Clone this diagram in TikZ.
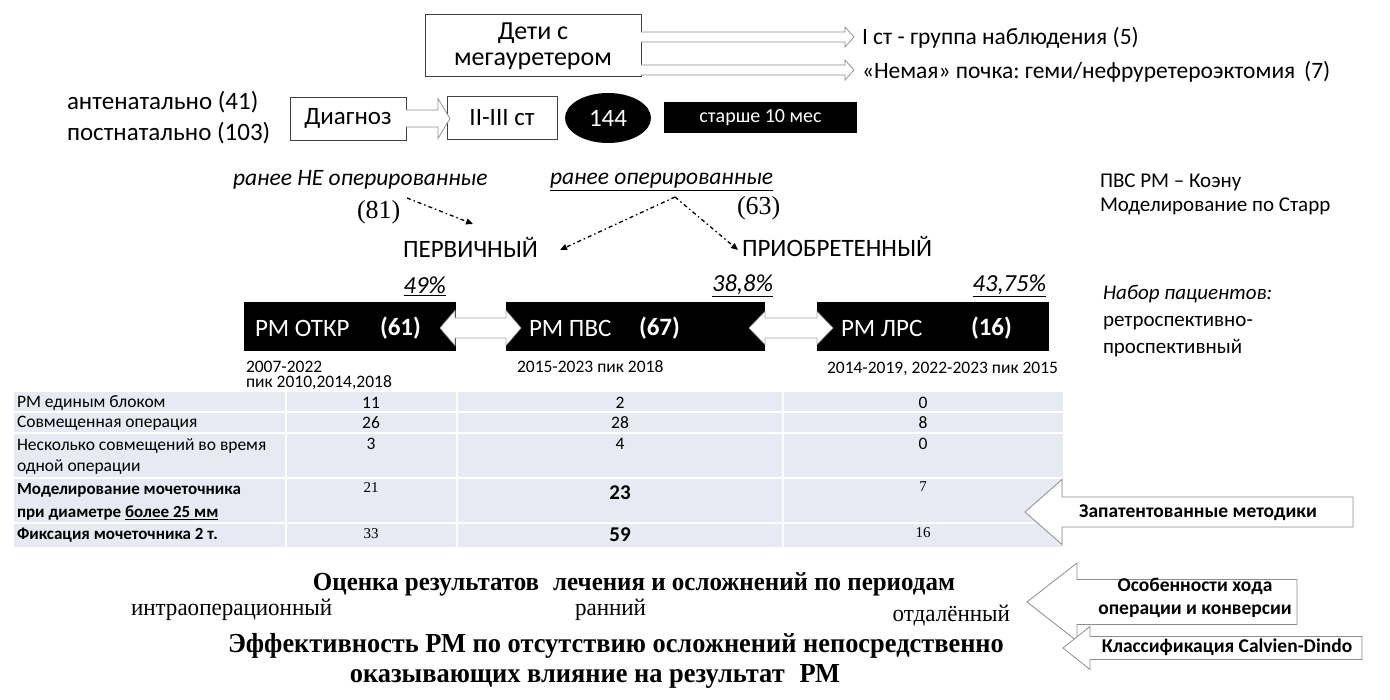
\documentclass[tikz,border=0pt]{standalone}
\usepackage{fontspec}
\setmainfont{Carlito}
\newfontfamily\tnr{Liberation Serif}
\newfontfamily\tnrc[FakeStretch=0.96]{Liberation Serif}
\usetikzlibrary{arrows.meta,calc,shapes.geometric}
\definecolor{tabfill}{HTML}{E8EAF3}
\definecolor{arrgray}{HTML}{8C8C8C}
\frenchspacing
\newcommand\rarrowshape[6]{\draw[#6] let \p1=(#1), \p2=(#2) in (\x1,\y1+#3) -- (\x2-#5,\y1+#3) -- (\x2-#5,\y1+#4) -- (\x2,\y1) -- (\x2-#5,\y1-#4) -- (\x2-#5,\y1-#3) -- (\x1,\y1-#3);}
\newcommand\dblarrowshape[6]{\draw[#6] let \p1=(#1), \p2=(#2) in (\x1,\y1) -- (\x1+#5,\y1+#4) -- (\x1+#5,\y1+#3) -- (\x2-#5,\y1+#3) -- (\x2-#5,\y1+#4) -- (\x2,\y1) -- (\x2-#5,\y1-#4) -- (\x2-#5,\y1-#3) -- (\x1+#5,\y1-#3) -- (\x1+#5,\y1-#4) -- cycle;}
\newcommand\larrowshape[6]{\draw[#6] let \p1=(#1), \p2=(#2) in (\x1,\y1) -- (\x1+#5,\y1+#4) -- (\x1+#5,\y1+#3) -- (\x2,\y1+#3) -- (\x2,\y1-#3) -- (\x1+#5,\y1-#3) -- (\x1+#5,\y1-#4) -- cycle;}
\begin{document}
\begin{tikzpicture}[x=1pt,y=-1pt,
  every node/.style={inner sep=0pt, outer sep=0pt},
  f25/.style={font=\fontsize{25}{29}\selectfont},
  f26/.style={font=\fontsize{26}{29}\selectfont},
  f25b/.style={font=\fontsize{25}{29}\selectfont\bfseries},
  f23/.style={font=\fontsize{23.5}{28}\selectfont},
  it24/.style={font=\fontsize{23.5}{28}\selectfont\itshape},
  it25/.style={font=\fontsize{24.5}{29}\selectfont\itshape},
  s26/.style={font=\fontsize{26}{30}\selectfont\tnr},
  f21/.style={font=\fontsize{21}{25}\selectfont},
  it21/.style={font=\fontsize{21}{25}\selectfont\itshape},
  f20/.style={font=\fontsize{20}{23}\selectfont},
  f18/.style={font=\fontsize{17.5}{21}\selectfont},
  tb/.style={font=\fontsize{17.5}{21}\selectfont},
  tbb/.style={font=\fontsize{17}{23}\selectfont\bfseries},
  tbv/.style={font=\fontsize{21}{25}\selectfont\bfseries},
  tbs/.style={font=\fontsize{15}{18}\selectfont\tnr},
  bser/.style={font=\fontsize{26}{30}\selectfont\tnrc\bfseries},
  bserl/.style={font=\fontsize{27.5}{31}\selectfont\tnrc\bfseries},
  rser/.style={font=\fontsize{24}{28}\selectfont\tnrc},
  wbox/.style={draw=black!75, line width=0.8pt, fill=white},
  harr/.style={draw=arrgray, line width=0.7pt, fill=white},
  darr/.style={draw=gray!70, line width=0.6pt, fill=white},
  barr/.style={draw=arrgray, line width=0.8pt, fill=white},
  dd/.style={line width=1.3pt, dash pattern=on 4pt off 3pt on 1.5pt off 3pt, -{Triangle[length=7pt,width=6pt]}}]
\useasboundingbox (0,0) rectangle (1390,700);
\fill[white] (0,0) rectangle (1390,700);

% ---- top
\node[wbox, minimum width=216, minimum height=62] (deti) at (533,45) {};
\node[f26] (deti1) at (533,33) {Дети с};
\node[f26] (deti2) at (533,61) {мегауретером};
\coordinate (t1) at (854,37);
\coordinate (t2) at (854,70);
\rarrowshape{deti.east |- t1}{t1}{5}{10}{9}{harr}
\rarrowshape{deti.east |- t2}{t2}{5}{10}{9}{harr}
\node[anchor=west, f23] (txt1) at (862,38) {I ст - группа наблюдения (5)};
\node[anchor=west, f23] (txt2) at (862,72) {«Немая» почка: геми/нефруретероэктомия\hspace{0.15em} (7)};

\node[anchor=west, f25] (ante) at (67,102) {антенатально (41)};
\node[anchor=west, f25] (post) at (67,133) {постнатально (103)};
\node[wbox, minimum width=116, minimum height=43, f25] (diag) at (348,118.5) {Диагноз};
\node[wbox, minimum width=110, minimum height=43, f25] (st) at (502,117.5) {II-III ст};
\coordinate (dtip) at (450,118.5);
\rarrowshape{diag.east}{dtip}{8.5}{20}{12}{harr}
\node[ellipse, fill=black, minimum width=86, minimum height=50, text=white, f25] (n144) at (608,118) {144};
\node[fill=black, minimum width=193, minimum height=31, text=white, f20] (old) at (760.5,118) {старше 10 мес};

% ---- middle
\node[anchor=west, it24] (notop) at (233,180) {ранее НЕ оперированные};
\node[anchor=west, it24] (op) at (550,182) {\underline{ранее оперированные}};
\node[anchor=west, s26] (n81) at (357,212) {(81)};
\node[anchor=west, s26] (n63) at (737,208) {(63)};
\node[anchor=west, f25] (prim) at (403,247) {ПЕРВИЧНЫЙ};
\node[anchor=west, f25] (acq) at (742,247) {ПРИОБРЕТЕННЫЙ};
\coordinate (d1s) at (407,198);
\coordinate (d1e) at (473,224);
\coordinate (apex) at (675,197);
\coordinate (d2e) at (560,250);
\coordinate (d3e) at (738,250);
\draw[dd] (d1s) -- (d1e);
\draw[dd] (apex) -- (d2e);
\draw[dd] (apex) -- (d3e);

\node[anchor=east, it25] (p1) at (446,286) {\underline{49\%}};
\node[anchor=east, it25] (p2) at (773,286) {\underline{38,8\%}};
\node[anchor=east, it25] (p3) at (1046,286) {\underline{43,75\%}};

\node[fill=black, minimum width=212, minimum height=49] (b1) at (350,326.5) {};
\node[fill=black, minimum width=259, minimum height=49] (b2) at (635.5,326.5) {};
\node[fill=black, minimum width=232, minimum height=49] (b3) at (933,326.5) {};
\node[anchor=west, text=white, f25] (b1a) at (255,328) {РМ ОТКР};
\node[anchor=west, text=white, f25b] (b1b) at (380,328) {(61)};
\node[anchor=west, text=white, f25] (b2a) at (529,328) {РМ ПВС};
\node[anchor=west, text=white, f25b] (b2b) at (639,328) {(67)};
\node[anchor=west, text=white, f25] (b3a) at (841,328) {РМ ЛРС};
\node[anchor=west, text=white, f25b] (b3b) at (971,328) {(16)};
\coordinate (da1l) at (440,328);
\coordinate (da1r) at (521,328);
\coordinate (da2l) at (749,328);
\coordinate (da2r) at (833,328);
\dblarrowshape{da1l}{da1r}{10}{17.5}{15}{darr}
\dblarrowshape{da2l}{da2r}{10}{16.5}{16}{darr}

\node[anchor=west, f18] (y1a) at (246,367) {2007-2022};
\node[anchor=west, f18] (y1b) at (246,383) {пик 2010,2014,2018};
\node[anchor=west, f18] (y2) at (517,367) {2015-2023 пик 2018};
\node[anchor=west, f18] (y3) at (827,369) {2014-2019, 2022-2023 пик 2015};

\node[anchor=west, f21] (r1) at (1100,182) {ПВС РМ – Коэну};
\node[anchor=west, f21] (r2) at (1100,206) {Моделирование по Старр};
\node[anchor=west, it21] (r3) at (1103,294) {Набор пациентов:};
\node[anchor=west, f21] (r4) at (1103,323) {ретроспективно-};
\node[anchor=west, f21] (r5) at (1103,348) {проспективный};

% ---- table
\fill[tabfill] (14,392) rectangle (1063,547);
\foreach \yy in {412,433,478,523} \draw[white, line width=1.5pt] (14,\yy) -- (1063,\yy);
\foreach \xx in {286,457,783} \draw[white, line width=1.5pt] (\xx,392) -- (\xx,547);
\node[anchor=west, tb] (l1) at (17,403) {РМ единым блоком};
\node[anchor=west, tb] (l2) at (17,423) {Совмещенная операция};
\node[anchor=west, tb] (l3a) at (17,446) {Несколько совмещений во время};
\node[anchor=west, tb] (l3b) at (17,467) {одной операции};
\node[anchor=west, tbb] (l4a) at (17,490) {Моделирование мочеточника};
\node[anchor=west, tbb] (l4b) at (17,513) {при диаметре \underline{более 25 мм}};
\node[anchor=west, tbb] (l5) at (17,535) {Фиксация мочеточника 2 т.};
\node[tb] (v11) at (371,403) {11};
\node[tb] (v12) at (620,403) {2};
\node[tb] (v13) at (923,403) {0};
\node[tb] (v21) at (371,423) {26};
\node[tb] (v22) at (620,423) {28};
\node[tb] (v23) at (923,423) {8};
\node[tb] (v31) at (371,444) {3};
\node[tb] (v32) at (620,444) {4};
\node[tb] (v33) at (923,444) {0};
\node[tbs] (v41) at (371,488) {21};
\node[tbv] (v42) at (620,493) {23};
\node[tbs] (v43) at (923,487) {7};
\node[tbs] (v51) at (371,534) {33};
\node[tbv] (v52) at (620,535) {59};
\node[tbs] (v53) at (923,533) {16};

% ---- right block arrows
\coordinate (a1t) at (1025,512);
\coordinate (a1e) at (1353,512);
\larrowshape{a1t}{a1e}{15}{32.5}{37}{barr}
\node[font=\fontsize{19.5}{23}\selectfont\bfseries] (a1txt) at (1198,513) {Запатентованные методики};
\coordinate (a2t) at (1027,602);
\coordinate (a2e) at (1297,602);
\larrowshape{a2t}{a2e}{22.5}{39}{50}{barr}
\node[align=center, font=\fontsize{19.5}{23}\selectfont\bfseries] (a2txt) at (1195,598) {Особенности хода\\операции и конверсии};
\coordinate (a3t) at (1063,648);
\coordinate (a3e) at (1362,648);
\larrowshape{a3t}{a3e}{11.5}{21.5}{27}{barr}
\node[font=\fontsize{19.5}{23}\selectfont\bfseries] (a3txt) at (1227,647) {Классификация Calvien-Dindo};

% ---- bottom
\node[bser] (ev) at (634,584) {Оценка результатов\hspace{0.3em} лечения и осложнений по периодам};
\node[anchor=west, rser] (ph1) at (131,610) {интраоперационный};
\node[anchor=west, rser] (ph2) at (575,610) {ранний};
\node[anchor=east, rser] (ph3) at (1010,616) {отдалённый};
\node[bserl] (eff1) at (616,646) {Эффективность РМ по отсутствию осложнений непосредственно};
\node[bserl] (eff2) at (595,676) {оказывающих влияние на результат\hspace{0.3em} РМ};
\end{tikzpicture}
\end{document}
